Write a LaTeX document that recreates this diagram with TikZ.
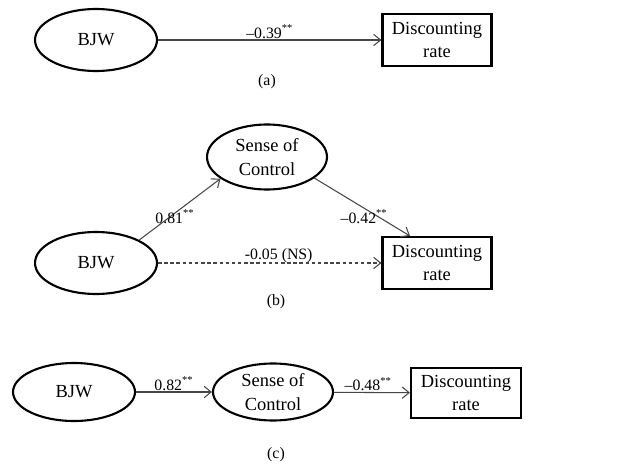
\documentclass[tikz,border=0pt]{standalone}
\usepackage{fontspec}
\setmainfont{Liberation Serif}
\usetikzlibrary{shapes.geometric, arrows.meta, positioning}
\definecolor{mylink}{RGB}{70,70,70}
\tikzset{
  latent/.style={ellipse, draw=black, line width=1.2pt,
    minimum width=2.44cm, minimum height=1.24cm, inner sep=0pt,
    align=center, font=\fontsize{10.5}{13.5}\selectfont},
  observed/.style={rectangle, draw=black, line width=1.2pt,
    minimum width=2.18cm, minimum height=1.04cm, inner sep=0pt,
    align=center, font=\fontsize{10.5}{13.5}\selectfont},
  link/.style={-{Straight Barb[length=4pt,width=6.5pt]}, line width=0.6pt, color=mylink},
  nslink/.style={link, dash pattern=on 2pt off 1.5pt},
  coef/.style={font=\fontsize{9}{10}\selectfont, inner sep=0.5pt, text=black},
  panel/.style={font=\fontsize{9}{10}\selectfont}
}

\begin{document}
\begin{tikzpicture}[x=0.02cm, y=-0.02cm]
  \useasboundingbox (0,0) rectangle (626,466);

  % Panel (a): total effect
  \node[latent] (bjwA) at (96,40) {BJW};
  \node[observed] (rateA) at (437,40) {Discounting\\rate};
  \draw[link] (bjwA) -- node[coef, above] {--0.39\textsuperscript{**}} (rateA);
  \node[panel] (capA) at (267,82) {(a)};

  % Panel (b): mediation
  \node[latent, minimum width=2.4cm, minimum height=1.3cm] (socB) at (267,157) {Sense of\\Control};
  \node[latent] (bjwB) at (96,263) {BJW};
  \node[observed] (rateB) at (437,263) {Discounting\\rate};
  \draw[link] (bjwB.28) -- node[coef, pos=0.44, yshift=-0.07cm] {0.81\textsuperscript{**}} (socB.205);
  \draw[link] (socB.336) -- node[coef, pos=0.52, yshift=-0.17cm] {--0.42\textsuperscript{**}} (rateB.135);
  \draw[nslink] (bjwB) -- node[coef, above, pos=0.54, inner sep=0pt] {-0.05 (NS)} (rateB);
  \node[panel] (capB) at (276,302) {(b)};

  % Panel (c): serial path
  \node[latent, minimum height=1.16cm] (bjwC) at (74,392) {BJW};
  \node[latent, minimum width=2.4cm, minimum height=1.14cm] (socC) at (273,392) {Sense of\\Control};
  \node[observed, minimum width=2.2cm, minimum height=1.0cm] (rateC) at (466,393) {Discounting\\rate};
  \draw[link] (bjwC) -- node[coef, above] {0.82\textsuperscript{**}} (socC);
  \draw[link] (socC) -- node[coef, above, pos=0.45] {--0.48\textsuperscript{**}} (rateC);
  \node[panel] (capC) at (276,455) {(c)};
\end{tikzpicture}
\end{document}
